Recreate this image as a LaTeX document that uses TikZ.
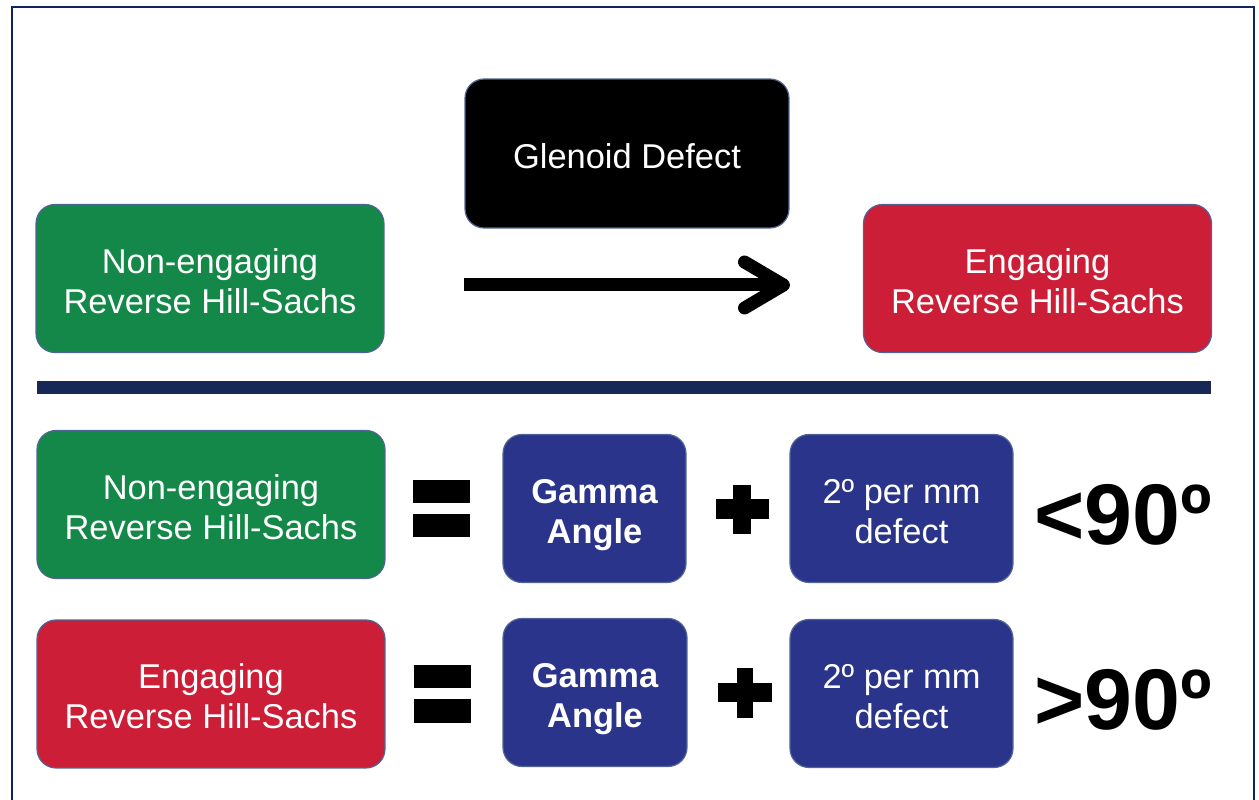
\documentclass[tikz,border=0pt]{standalone}
\usepackage{fontspec}
\setmainfont{Liberation Sans}
\usetikzlibrary{arrows.meta}

\definecolor{okgreen}{RGB}{20,136,72}
\definecolor{badred}{RGB}{204,30,55}
\definecolor{boxnavy}{RGB}{42,52,138}
\definecolor{edgeblue}{RGB}{80,100,150}
\definecolor{framenavy}{RGB}{14,35,100}
\definecolor{rulenavy}{RGB}{24,40,86}

\tikzset{
  box/.style={rounded corners=0.38cm, draw=edgeblue, line width=0.7pt,
    text=white, align=center, inner sep=0pt,
    text height=41.5pt, text depth=2pt,
    font=\fontsize{19.6}{22.8}\selectfont},
  bigbox/.style={box, minimum width=6.96cm, minimum height=2.96cm},
  termbox/.style={box, fill=boxnavy, minimum height=2.96cm},
  result/.style={font=\fontsize{49}{52}\selectfont\bfseries}
}

\begin{document}
\begin{tikzpicture}[x=0.02cm,y=-0.02cm]
\useasboundingbox (0,0) rectangle (1259,800);
% frame, open at the bottom
\draw[framenavy, line width=1.6pt] (12,800) -- (12,7) -- (1254,7) -- (1254,800);

% top part
\node[bigbox, fill=okgreen] (nonA) at (210,278.5) {Non-engaging\\Reverse Hill-Sachs};
\node[box, fill=black, minimum width=6.48cm, minimum height=2.98cm,
  text height=16.8pt, text depth=0pt] (glenoid) at (627,153.5) {Glenoid Defect};
\node[bigbox, fill=badred] (engA) at (1037.5,278.5) {Engaging\\Reverse Hill-Sachs};
\coordinate (arrS) at (464,285);
\coordinate (arrE) at (790,285);
\draw[line width=0.26cm, -{Straight Barb[length=0.78cm, width=0.92cm, line cap=round, round]}] (arrS) -- (arrE);

% divider
\fill[rulenavy] (37,381) rectangle (1211,394);

% first equation
\node[bigbox, fill=okgreen] (nonB) at (211,504.5) {Non-engaging\\Reverse Hill-Sachs};
\fill (413,480) rectangle (470,503);
\fill (413,514) rectangle (470,537);
\node[termbox, minimum width=3.66cm, font=\fontsize{19.6}{22.8}\selectfont\bfseries] (gamA) at (594.5,508.5) {Gamma\\Angle};
\fill (716,499) rectangle (769,519);
\fill (733,485) rectangle (751,534);
\node[termbox, minimum width=4.46cm] (degA) at (901.5,508.5) {2º per mm\\defect};
\node[result] (lt) at (1123,515) {<90º};

% second equation
\node[bigbox, fill=badred] (engB) at (211,694) {Engaging\\Reverse Hill-Sachs};
\fill (414,665) rectangle (471,688);
\fill (414,699) rectangle (471,723);
\fill (718,683) rectangle (772,702);
\fill (737,668) rectangle (753,718);
\node[termbox, minimum width=3.68cm, font=\fontsize{19.6}{22.8}\selectfont\bfseries] (gamB) at (595,692.5) {Gamma\\Angle};
\node[termbox, minimum width=4.46cm] (degB) at (901.5,693.5) {2º per mm\\defect};
\node[result] (gt) at (1123,700) {>90º};
\end{tikzpicture}
\end{document}
